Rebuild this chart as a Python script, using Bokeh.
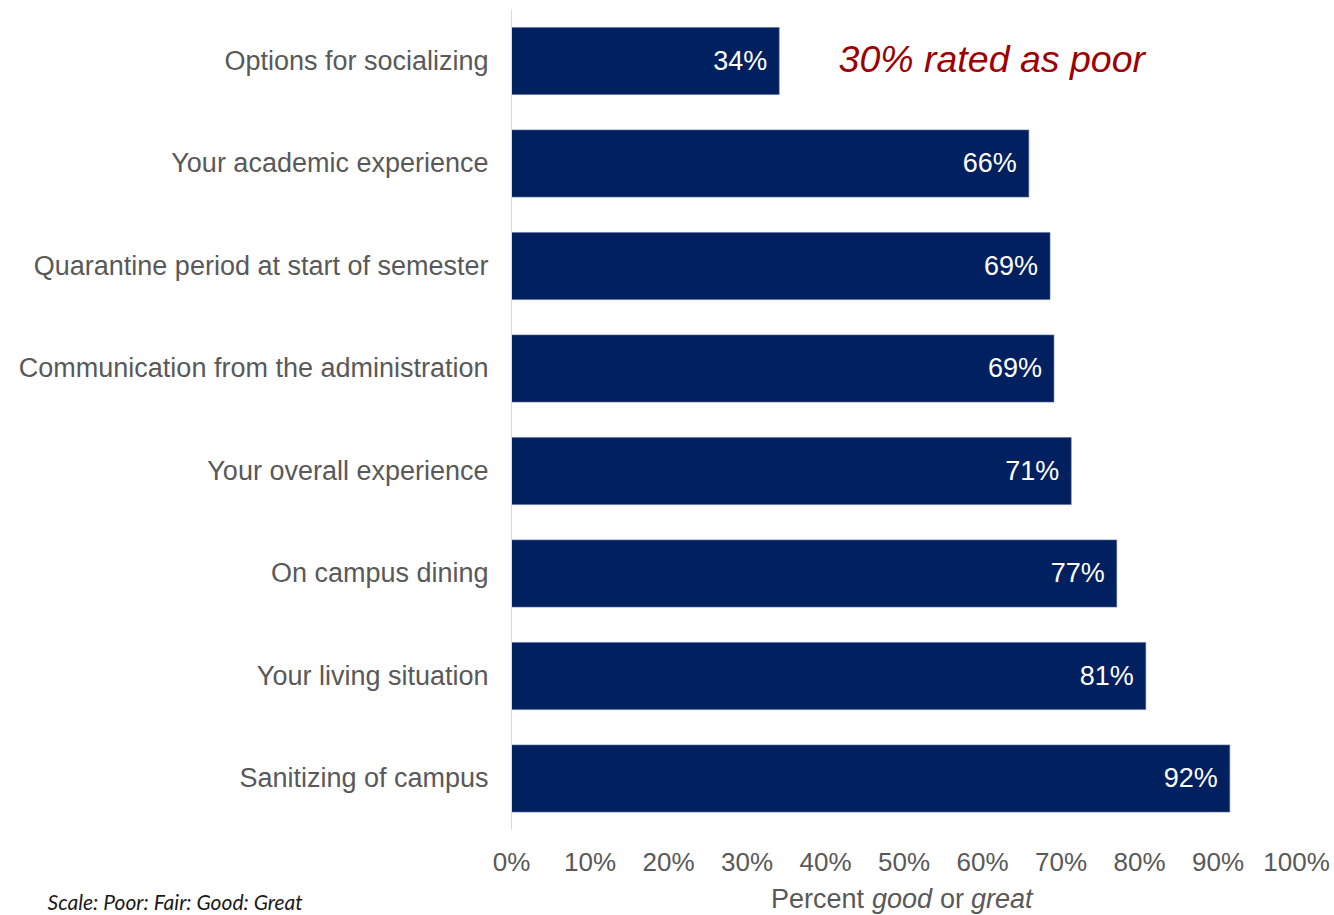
from bokeh.plotting import figure
from bokeh.models import ColumnDataSource, Range1d, FixedTicker, PrintfTickFormatter, Label, LinearAxis
from bokeh.embed import file_html
from bokeh.resources import INLINE
from bokeh.core.properties import value

categories = [
    "Options for socializing",
    "Your academic experience",
    "Quarantine period at start of semester",
    "Communication from the administration",
    "Your overall experience",
    "On campus dining",
    "Your living situation",
    "Sanitizing of campus",
]
percent_good_or_great = [34.1, 65.9, 68.6, 69.1, 71.3, 77.1, 80.8, 91.5]
bar_labels = ["34%", "66%", "69%", "69%", "71%", "77%", "81%", "92%"]
x_ticks = [0, 10, 20, 30, 40, 50, 60, 70, 80, 90, 100]

n = len(categories)
ypos = [n - 0.5 - i for i in range(n)]  # first category at top

W, H = 1334, 915
p = figure(
    width=W, height=H,
    x_range=Range1d(-65.10, 104.84),
    y_range=Range1d(-0.8366, 8.0902),
    output_backend="svg", toolbar_location=None,
    x_axis_location=None, y_axis_location=None,
    min_border_left=0, min_border_right=0, min_border_top=0, min_border_bottom=0,
)
p.outline_line_color = None
p.background_fill_color = "white"
p.border_fill_color = "white"
p.xgrid.grid_line_color = None
p.ygrid.grid_line_color = None

src = ColumnDataSource(dict(y=ypos, val=percent_good_or_great, lab=bar_labels))
p.hbar(y="y", right="val", left=0, height=0.655, source=src,
       fill_color="#002060", line_color="#5A6E9E", line_width=0.6)
p.text(x="val", y="y", text="lab", source=src, x_offset=-12,
       text_align="right", text_baseline="middle", text_color="white",
       text_font=value("Liberation Sans"), text_font_size="27px")

# y axis (category labels), fixed at x = 0
ya = LinearAxis(fixed_location=0, bounds=(0, n))
ya.ticker = FixedTicker(ticks=ypos)
ya.major_label_overrides = {y: c for y, c in zip(ypos, categories)}
ya.axis_line_color = "#d9d9d9"
ya.axis_line_width = 1
ya.major_tick_line_color = None
ya.minor_tick_line_color = None
ya.major_tick_out = 0
ya.major_tick_in = 0
ya.major_label_standoff = 23
ya.major_label_text_font = "Liberation Sans"
ya.major_label_text_font_size = "27px"
ya.major_label_text_color = "#595959"
p.add_layout(ya, "left")

# x axis, fixed at y = 0
xa = LinearAxis(fixed_location=0)
xa.ticker = FixedTicker(ticks=x_ticks)
xa.formatter = PrintfTickFormatter(format="%d%%")
xa.axis_line_color = None
xa.major_tick_line_color = None
xa.minor_tick_line_color = None
xa.major_tick_out = 0
xa.major_tick_in = 0
xa.major_label_standoff = 17
xa.major_label_text_font = "Liberation Sans"
xa.major_label_text_font_size = "26px"
xa.major_label_text_color = "#595959"
p.add_layout(xa, "below")

# x axis title with mixed italics
title_parts = [("Percent", "normal", -133), ("good", "italic", -32), ("or", "normal", 36), ("great", "italic", 67)]
for txt, style, off in title_parts:
    p.add_layout(Label(x=50, y=-0.68, x_offset=off, text=txt, text_align="left",
                       text_baseline="middle", text_font="Liberation Sans",
                       text_font_size="27px", text_font_style=style, text_color="#595959"))

# annotation
p.add_layout(Label(x=41.66, y=7.52, text="30% rated as poor", text_align="left",
                   text_baseline="middle", text_font="Liberation Sans",
                   text_font_size="37.5px", text_font_style="italic", text_color="#9C0000"))

# scale note
p.add_layout(Label(x=-59.1, y=-0.70, text="Scale: Poor: Fair: Good: Great", text_align="left",
                   text_baseline="middle", text_font="Lato",
                   text_font_size="21px", text_font_style="italic", text_color="#1a1a1a"))

open("out.html", "w").write(file_html(p, INLINE))
